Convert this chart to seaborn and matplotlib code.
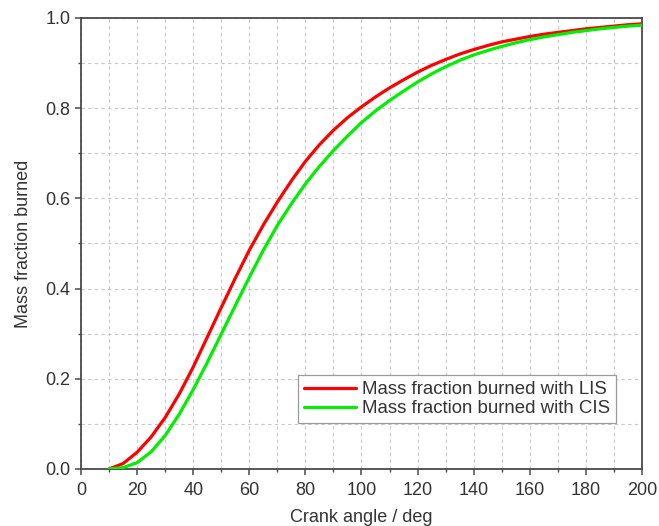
import matplotlib
matplotlib.use("Agg")
import matplotlib.pyplot as plt
from matplotlib.ticker import MultipleLocator
import pandas as pd
import seaborn as sns

# Crank angle samples (deg)
crank_angle = [10, 15, 20, 25, 30, 35, 40, 45, 50, 55, 60, 65, 70, 75, 80, 85, 90,
               95, 100, 105, 110, 115, 120, 125, 130, 135, 140, 145, 150, 155,
               160, 165, 170, 175, 180, 185, 190, 195, 200]

# Mass fraction burned, laser ignition system
mfb_lis = [0.000, 0.012, 0.037, 0.071, 0.114, 0.166, 0.226, 0.292, 0.358, 0.423,
           0.485, 0.541, 0.592, 0.639, 0.682, 0.719, 0.751, 0.779, 0.803, 0.825,
           0.845, 0.863, 0.880, 0.895, 0.908, 0.920, 0.930, 0.939, 0.947, 0.953,
           0.959, 0.964, 0.968, 0.972, 0.976, 0.979, 0.982, 0.985, 0.987]

# Mass fraction burned, conventional ignition system
mfb_cis = [0.000, 0.003, 0.014, 0.038, 0.074, 0.121, 0.176, 0.236, 0.299, 0.362,
           0.425, 0.485, 0.540, 0.588, 0.632, 0.671, 0.706, 0.738, 0.768, 0.794,
           0.817, 0.838, 0.858, 0.876, 0.892, 0.906, 0.918, 0.928, 0.937, 0.945,
           0.952, 0.958, 0.963, 0.968, 0.972, 0.976, 0.979, 0.982, 0.984]

series_labels = ["Mass fraction burned with LIS", "Mass fraction burned with CIS"]
series_colors = ["#ff0000", "#00ee00"]

x_label = "Crank angle / deg"
y_label = "Mass fraction burned"

df = pd.concat([
    pd.DataFrame({"angle": crank_angle, "mfb": mfb_lis, "series": series_labels[0]}),
    pd.DataFrame({"angle": crank_angle, "mfb": mfb_cis, "series": series_labels[1]}),
], ignore_index=True)

sns.set_theme(style="ticks")
plt.rcParams["font.family"] = ["Liberation Sans", "DejaVu Sans"]

fig = plt.figure(figsize=(6.59, 5.26), dpi=100)
ax = fig.add_axes([0.1229, 0.1084, 0.8513, 0.8574])

sns.lineplot(data=df, x="angle", y="mfb", hue="series",
             palette=dict(zip(series_labels, series_colors)),
             linewidth=2.3, ax=ax, legend=False, zorder=3)
for line in ax.get_lines():
    line.set_solid_joinstyle("round")
    line.set_solid_capstyle("round")

ax.set_xlim(0, 200)
ax.set_ylim(0, 1.0)
ax.xaxis.set_major_locator(MultipleLocator(20))
ax.xaxis.set_minor_locator(MultipleLocator(10))
ax.yaxis.set_major_locator(MultipleLocator(0.2))
ax.yaxis.set_minor_locator(MultipleLocator(0.1))
ax.yaxis.set_major_formatter(plt.FormatStrFormatter("%.1f"))

ax.grid(True, which="both", linestyle=(0, (3, 3)), color="#c8c8c8", linewidth=0.8)
ax.set_axisbelow(True)

for side in ["left", "bottom", "top", "right"]:
    ax.spines[side].set_color("#4a4a4a")
    ax.spines[side].set_linewidth(1.3)

ax.tick_params(axis="both", which="major", direction="out", length=4.5, width=1.1,
               color="#4a4a4a", labelsize=13, labelcolor="#333333",
               top=False, right=False)
ax.tick_params(axis="x", which="major", pad=5)
ax.tick_params(axis="y", which="major", pad=3)
ax.tick_params(axis="both", which="minor", direction="out", length=2.5, width=1.0,
               color="#4a4a4a", top=False, right=False)

ax.set_xlabel(x_label, fontsize=13, color="#333333", labelpad=7)
ax.set_ylabel(y_label, fontsize=13, color="#333333", labelpad=10)

handles = [plt.Line2D([], [], color=c, linewidth=2.3) for c in series_colors]
leg = ax.legend(handles, series_labels, loc="lower left",
                bbox_to_anchor=(0.387, 0.102), borderaxespad=0,
                fontsize=13.4, frameon=True, fancybox=False, framealpha=1,
                edgecolor="#9a9a9a", handlelength=2.8, handletextpad=0.32,
                labelspacing=0.1, borderpad=0.32)
leg.get_frame().set_linewidth(0.9)
for t in leg.get_texts():
    t.set_color("#333333")

fig.savefig("out.png", dpi=100)
